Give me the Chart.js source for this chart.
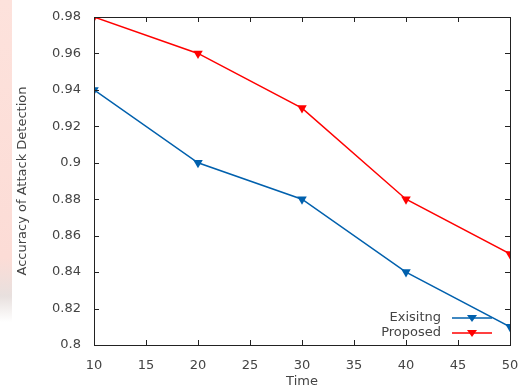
<!DOCTYPE html>
<html>
<head>
<meta charset="utf-8">
<script src="https://cdn.jsdelivr.net/npm/chart.js@4"></script>
<style>
  html, body { margin: 0; padding: 0; background: #fff; }
  #wrap { position: relative; width: 522px; height: 389px; }
  #strip {
    position: absolute; left: 0; top: 0; width: 12px; height: 322px;
    background: linear-gradient(to bottom, #fde2dc 0%, #fcdcd6 80%, #e8e0de 92%, #ffffff 100%);
  }
  canvas { position: absolute; left: 0; top: 0; }
</style>
</head>
<body>
<div id="wrap">
  <div id="strip"></div>
  <canvas id="c" width="522" height="389"></canvas>
</div>
<script>
const times = [10, 20, 30, 40, 50];
const existing = [0.94, 0.90, 0.88, 0.84, 0.81];
const proposed = [0.98, 0.96, 0.93, 0.88, 0.85];
const xTicks = [10, 15, 20, 25, 30, 35, 40, 45, 50];
const yTicks = [0.8, 0.82, 0.84, 0.86, 0.88, 0.9, 0.92, 0.94, 0.96, 0.98];

const FONT = "DejaVu Sans";
const TXT = "#444";

// gnuplot-ish frame: box with inward ticks on all four sides
const framePlugin = {
  id: "frame",
  afterDatasetsDraw(chart) {
    const { ctx, chartArea: a, scales } = chart;
    ctx.save();
    ctx.strokeStyle = "#222";
    ctx.lineWidth = 1;
    ctx.strokeRect(a.left + 0.5, a.top + 0.5, a.right - a.left, a.bottom - a.top);
    const len = 5;
    ctx.beginPath();
    for (const v of xTicks) {
      const x = Math.round(scales.x.getPixelForValue(v)) + 0.5;
      ctx.moveTo(x, a.bottom); ctx.lineTo(x, a.bottom - len);
      ctx.moveTo(x, a.top); ctx.lineTo(x, a.top + len);
    }
    for (const v of yTicks) {
      const y = Math.round(scales.y.getPixelForValue(v)) + 0.5;
      ctx.moveTo(a.left, y); ctx.lineTo(a.left + len, y);
      ctx.moveTo(a.right, y); ctx.lineTo(a.right - len, y);
    }
    ctx.stroke();
    ctx.restore();
  },
};

// legend in the lower right corner of the plot
const keyPlugin = {
  id: "key",
  afterDraw(chart) {
    const { ctx } = chart;
    ctx.save();
    ctx.font = `13px "${FONT}"`;
    ctx.textAlign = "right";
    ctx.textBaseline = "middle";
    chart.data.datasets.forEach((ds, i) => {
      const y = 318 + i * 15;
      ctx.fillStyle = TXT;
      ctx.fillText(ds.label, 441, y);
      ctx.strokeStyle = ds.borderColor;
      ctx.lineWidth = 1.5;
      ctx.beginPath();
      ctx.moveTo(452, y); ctx.lineTo(492, y);
      ctx.stroke();
      ctx.fillStyle = ds.borderColor;
      ctx.beginPath();
      ctx.moveTo(467, y - 3); ctx.lineTo(477, y - 3); ctx.lineTo(472, y + 4);
      ctx.closePath();
      ctx.fill();
    });
    ctx.restore();
  },
};

new Chart(document.getElementById("c"), {
  type: "line",
  data: {
    datasets: [
      {
        label: "Exisitng",
        data: times.map((t, i) => ({ x: t, y: existing[i] })),
        borderColor: "#0060ad",
        backgroundColor: "#0060ad",
      },
      {
        label: "Proposed",
        data: times.map((t, i) => ({ x: t, y: proposed[i] })),
        borderColor: "#ff0000",
        backgroundColor: "#ff0000",
      },
    ],
  },
  options: {
    responsive: false,
    animation: false,
    layout: { padding: { top: 17, right: 12, left: 0, bottom: 0 } },
    elements: {
      line: { borderWidth: 1.5, tension: 0 },
      point: { pointStyle: "triangle", rotation: 180, radius: 5.5, borderWidth: 0, hoverRadius: 5.5 },
    },
    plugins: { legend: { display: false }, tooltip: { enabled: false } },
    scales: {
      x: {
        type: "linear",
        min: 10, max: 50,
        afterBuildTicks: (s) => { s.ticks = xTicks.map((v) => ({ value: v })); },
        afterFit: (s) => { s.height = 44; s.paddingLeft = 0; s.paddingRight = 0; },
        grid: { display: false, drawTicks: false },
        border: { display: false },
        ticks: { color: TXT, font: { family: FONT, size: 13 }, padding: 13, maxRotation: 0 },
        title: { display: true, text: "Time", color: TXT, font: { family: FONT, size: 13 }, padding: { top: -4, bottom: 0 } },
      },
      y: {
        min: 0.8, max: 0.98,
        afterBuildTicks: (s) => { s.ticks = yTicks.map((v) => ({ value: v })); },
        afterFit: (s) => { s.width = 94; s.paddingTop = 0; s.paddingBottom = 0; },
        grid: { display: false, drawTicks: false },
        border: { display: false },
        ticks: { color: TXT, font: { family: FONT, size: 13 }, padding: 13, callback: (v) => String(+v.toFixed(2)) },
        title: { display: true, text: "Accuracy of Attack Detection", color: TXT, font: { family: FONT, size: 13 }, padding: { bottom: 6, top: 15 } },
      },
    },
  },
  plugins: [framePlugin, keyPlugin],
});
</script>
</body>
</html>
